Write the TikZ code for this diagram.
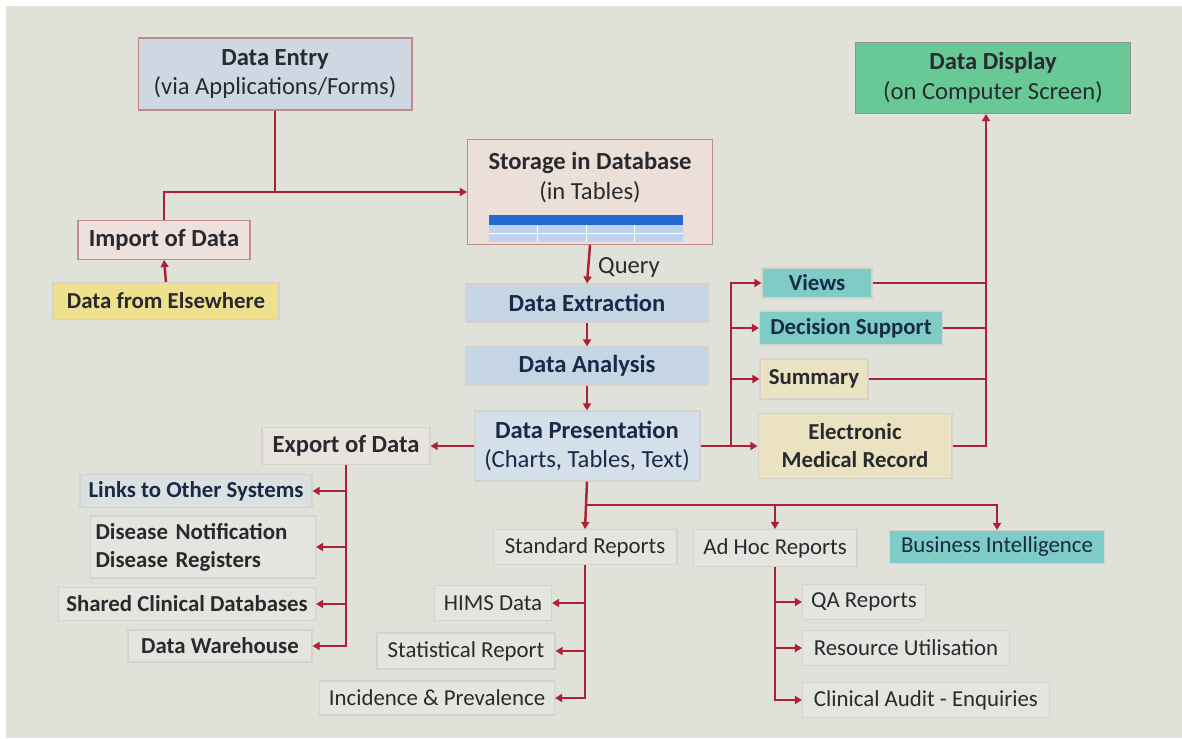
\documentclass[tikz,border=0pt]{standalone}
\usepackage{fontspec}
\setmainfont{Carlito}
\usetikzlibrary{arrows.meta,calc}

\definecolor{screen}{RGB}{224,225,217}
\definecolor{wirered}{RGB}{172,34,52}
\definecolor{boxline}{RGB}{192,138,138}
\definecolor{faintline}{RGB}{212,210,204}
\definecolor{ink}{RGB}{40,42,48}
\definecolor{navy}{RGB}{24,42,72}
\definecolor{entryfill}{RGB}{206,216,226}
\definecolor{displayfill}{RGB}{104,201,150}
\definecolor{storefill}{RGB}{236,223,215}
\definecolor{stagefill}{RGB}{198,213,228}
\definecolor{presentfill}{RGB}{213,223,233}
\definecolor{tealfill}{RGB}{126,204,197}
\definecolor{creamfill}{RGB}{234,226,192}
\definecolor{yellowfill}{RGB}{238,224,140}
\definecolor{palefill}{RGB}{228,229,222}
\definecolor{importfill}{RGB}{236,225,220}
\definecolor{tblblue}{RGB}{36,104,210}
\definecolor{tblpale}{RGB}{192,211,238}

\tikzset{
  box/.style={draw=boxline, line width=0.6pt, inner sep=2pt, text=ink,
    align=center, font=\fontsize{14}{17}\selectfont},
  minorbox/.style={box, font=\fontsize{13}{16}\selectfont},
  dimbox/.style={minorbox, draw=faintline, fill=palefill},
  wire/.style={draw=wirered, line width=1.4pt},
  arrowwire/.style={wire, -{Triangle[length=4pt,width=4.5pt]}},
}

\begin{document}
\begin{tikzpicture}[x=0.02cm, y=-0.02cm]
  % screen background
  \fill[white] (0,0) rectangle (1182,738);
  \fill[screen] (6,6) rectangle (1182,738);

  % entry, storage and display
  \node[box, fill=entryfill, minimum width=5.48cm, minimum height=1.44cm] (entry) at (275,74)
    {\textbf{Data Entry}\\(via Applications/Forms)};
  \node[box, draw=faintline!70!black, fill=displayfill, minimum width=5.5cm, minimum height=1.42cm] (display) at (993,78)
    {\textbf{Data Display}\\(on Computer Screen)};
  \node[box, fill=storefill, minimum width=4.9cm, minimum height=2.1cm] (storage) at (590,192) {};
  \node[box, draw=none] (storagetxt) at (590,178) {\textbf{Storage in Database}\\(in Tables)};
  \fill[tblpale] (489,225) rectangle (683,242);
  \fill[tblblue] (489,215) rectangle (683,225);
  \draw[white, line width=0.4pt] (489,233) -- (683,233);
  \foreach \x in {537,586,634}
    \draw[white, line width=0.4pt] (\x,225) -- (\x,242);

  \node[box, fill=importfill, minimum width=3.44cm, minimum height=0.78cm] (import) at (164,240)
    {\textbf{Import of Data}};
  \node[minorbox, draw=faintline, fill=yellowfill, minimum width=4.52cm, minimum height=0.74cm] (elsewhere) at (166,301)
    {\textbf{Data from Elsewhere}};

  % processing chain
  \node[box, draw=faintline, fill=stagefill, text=navy, minimum width=4.86cm, minimum height=0.76cm] (extract) at (587,303)
    {\textbf{Data Extraction}};
  \node[box, draw=faintline, fill=stagefill, text=navy, minimum width=4.86cm, minimum height=0.76cm] (analysis) at (587,366)
    {\textbf{Data Analysis}};
  \node[box, draw=faintline, fill=presentfill, text=navy, minimum width=4.52cm, minimum height=1.4cm] (present) at (587,446)
    {\textbf{Data Presentation}\\(Charts, Tables, Text)};
  \node[text=ink, font=\fontsize{14}{17}\selectfont, anchor=west] (query) at (592,267) {Query};

  % outputs to screen
  \node[minorbox, draw=faintline, fill=tealfill, text=navy, minimum width=2.2cm, minimum height=0.6cm] (views) at (817,283)
    {\textbf{Views}};
  \node[minorbox, draw=faintline, fill=tealfill, text=navy, minimum width=3.66cm, minimum height=0.68cm] (decision) at (851,328)
    {\textbf{Decision Support}};
  \node[minorbox, draw=faintline, fill=creamfill, minimum width=2.16cm, minimum height=0.8cm] (summary) at (814,379)
    {\textbf{Summary}};
  \node[minorbox, draw=faintline, fill=creamfill, minimum width=3.88cm, minimum height=1.3cm] (emr) at (855,446)
    {\textbf{Electronic}\\\textbf{Medical Record}};

  % export side
  \node[box, draw=faintline, fill=importfill!50!palefill, minimum width=3.36cm, minimum height=0.74cm] (export) at (346,446)
    {\textbf{Export of Data}};
  \node[dimbox, fill=entryfill!40!palefill, text=navy, minimum width=4.64cm, minimum height=0.66cm] (links) at (196,491)
    {\textbf{Links to Other Systems}};
  \node[dimbox, align=left, minimum width=4.5cm, minimum height=1.24cm, text width=4.3cm] (disease) at (203,547)
    {\textbf{Disease Notification}\\\textbf{Disease Registers}};
  \node[dimbox, minimum width=5.14cm, minimum height=0.66cm] (shared) at (187,604)
    {\textbf{Shared Clinical Databases}};
  \node[dimbox, minimum width=3.68cm, minimum height=0.64cm] (warehouse) at (220,646)
    {\textbf{Data Warehouse}};

  % reports
  \node[dimbox, minimum width=3.68cm, minimum height=0.7cm] (standard) at (585,547) {Standard Reports};
  \node[dimbox, minimum width=3.28cm, minimum height=0.74cm] (adhoc) at (775,548) {Ad Hoc Reports};
  \node[minorbox, draw=faintline, fill=tealfill, text=navy, minimum width=4.3cm, minimum height=0.66cm] (bi) at (997,547)
    {Business Intelligence};

  \node[dimbox, align=right, minimum width=2.34cm, minimum height=0.7cm] (hims) at (493,603) {HIMS Data};
  \node[dimbox, minimum width=3.56cm, minimum height=0.72cm] (statistical) at (466,651) {Statistical Report};
  \node[dimbox, minimum width=4.7cm, minimum height=0.68cm] (incidence) at (437,698) {Incidence \& Prevalence};
  \node[dimbox, minimum width=2.46cm, minimum height=0.7cm] (qa) at (864,602) {QA Reports};
  \node[dimbox, minimum width=4.14cm, minimum height=0.7cm] (resource) at (906,648) {Resource Utilisation};
  \node[dimbox, minimum width=4.94cm, minimum height=0.7cm] (audit) at (926,700) {Clinical Audit - Enquiries};

  % junction points
  \coordinate (fan) at (731,446);
  \coordinate (collect) at (986,446);
  \coordinate (hub) at (587,505);

  % into storage
  \draw[wire] (entry.south) -- (entry.south |- storage.west);
  \draw[arrowwire] (import.north) |- (storage.west);
  \draw[arrowwire] (elsewhere.north) -- (import.south);

  % down the chain
  \draw[arrowwire] (storage.south) -- (extract.north);
  \draw[arrowwire] (extract.south) -- (analysis.north);
  \draw[arrowwire] (analysis.south) -- (present.north);

  % export branch
  \draw[arrowwire] (present.west) -- (export.east);
  \draw[arrowwire] (export.south) |- (warehouse.east);
  \foreach \n in {links,disease,shared}
    \draw[arrowwire] (export.south |- \n.east) -- (\n.east);

  % screen branch
  \draw[arrowwire] (present.east) -- (emr.west);
  \draw[arrowwire] (fan) |- (views.west);
  \foreach \n in {decision,summary}
    \draw[arrowwire] (fan |- \n.west) -- (\n.west);
  \draw[arrowwire] (emr.east) -- (collect) -- (collect |- display.south);
  \foreach \n in {views,decision,summary}
    \draw[wire] (\n.east) -- (\n.east -| collect);

  % report branch
  \draw[arrowwire] (present.south) -- (standard.north);
  \draw[arrowwire] (hub) -| (bi.north);
  \draw[arrowwire] (hub -| adhoc.north) -- (adhoc.north);
  \draw[arrowwire] (standard.south) |- (incidence.east);
  \foreach \n in {hims,statistical}
    \draw[arrowwire] (standard.south |- \n.east) -- (\n.east);
  \draw[arrowwire] (adhoc.south) |- (audit.west);
  \foreach \n in {qa,resource}
    \draw[arrowwire] (adhoc.south |- \n.west) -- (\n.west);
\end{tikzpicture}
\end{document}
